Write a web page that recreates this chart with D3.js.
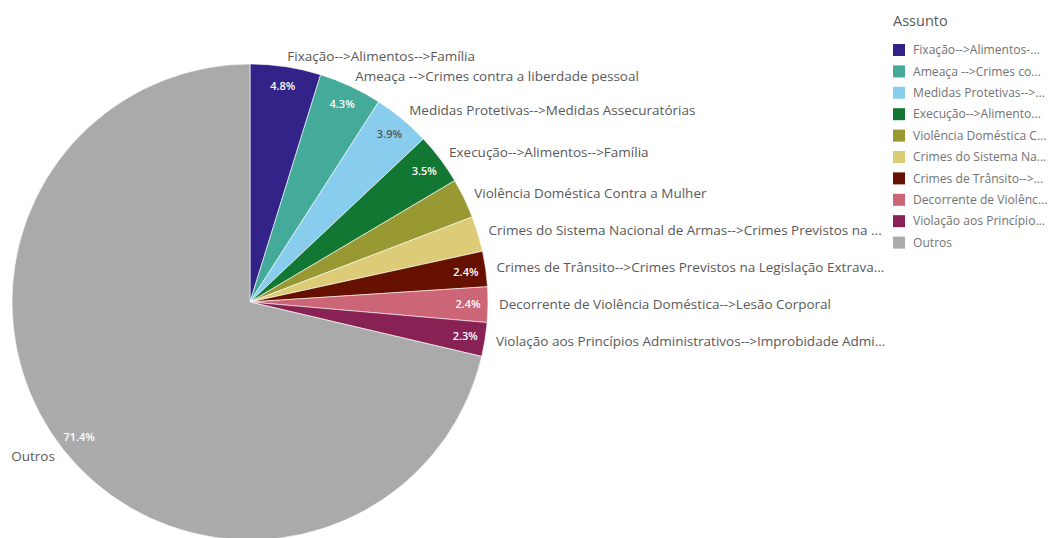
<!DOCTYPE html>
<html>
<head>
<meta charset="utf-8">
<script src="https://cdn.jsdelivr.net/npm/d3@7"></script>
<style>
  body { margin: 0; background: #fff; }
  svg { display: block; font-family: "Open Sans", sans-serif; }
</style>
</head>
<body>
<div id="chart"></div>
<script>
// data
var subjects = [
  "Fixação-->Alimentos-->Família",
  "Ameaça -->Crimes contra a liberdade pessoal",
  "Medidas Protetivas-->Medidas Assecuratórias",
  "Execução-->Alimentos-->Família",
  "Violência Doméstica Contra a Mulher",
  "Crimes do Sistema Nacional de Armas-->Crimes Previstos na ...",
  "Crimes de Trânsito-->Crimes Previstos na Legislação Extrava...",
  "Decorrente de Violência Doméstica-->Lesão Corporal",
  "Violação aos Princípios Administrativos-->Improbidade Admi...",
  "Outros"
];
var legendNames = [
  "Fixação-->Alimentos-...",
  "Ameaça -->Crimes co...",
  "Medidas Protetivas-->...",
  "Execução-->Alimento...",
  "Violência Doméstica C...",
  "Crimes do Sistema Na...",
  "Crimes de Trânsito-->...",
  "Decorrente de Violênc...",
  "Violação aos Princípio...",
  "Outros"
];
var percents = [4.8, 4.3, 3.9, 3.5, 2.7, 2.4, 2.4, 2.4, 2.3, 71.4];
var showPct = [true, true, true, true, false, false, true, true, true, true];
var colors = ["#332288", "#44aa99", "#88ccee", "#117733", "#999933",
              "#ddcc77", "#661100", "#cc6677", "#882255", "#aaaaaa"];
var darkText = ["Medidas Protetivas-->Medidas Assecuratórias", "Crimes do Sistema Nacional de Armas-->Crimes Previstos na ..."];

var width = 1052, height = 538;
var cx = 250, cy = 302, radius = 238;

var svg = d3.select("#chart")
  .append("svg")
    .attr("width", width)
    .attr("height", height);

var data = subjects.map(function(s, i) {
  return {name: s, value: percents[i], show: showPct[i], legend: legendNames[i]};
});

var color = d3.scaleOrdinal()
  .domain(subjects)
  .range(colors);

var pie = d3.pie()
  .sort(null)
  .value(function(d) { return d.value; });

var arc = d3.arc().innerRadius(0).outerRadius(radius);
var pctArc = d3.arc().innerRadius(218).outerRadius(218);
var outArc = d3.arc().innerRadius(249).outerRadius(249);

var g = svg.append("g")
  .attr("transform", "translate(" + cx + "," + cy + ")");

var arcs = pie(data);

// slices
g.selectAll("path")
  .data(arcs)
  .enter()
  .append("path")
    .attr("d", arc)
    .attr("fill", function(d) { return color(d.data.name); })
    .attr("stroke", "#fff")
    .attr("stroke-width", 0.6);

// percentage labels inside
g.selectAll("text.pct")
  .data(arcs.filter(function(d) { return d.data.show; }))
  .enter()
  .append("text")
    .attr("class", "pct")
    .attr("transform", function(d) { return "translate(" + pctArc.centroid(d) + ")"; })
    .attr("text-anchor", "middle")
    .attr("dy", "0.35em")
    .style("font-size", "11px")
    .style("font-weight", "600")
    .attr("fill", function(d) { return darkText.indexOf(d.data.name) >= 0 ? "#555" : "#fff"; })
    .text(function(d) { return d.data.value.toFixed(1) + "%"; });

// outer labels
g.selectAll("text.lbl")
  .data(arcs)
  .enter()
  .append("text")
    .attr("class", "lbl")
    .attr("transform", function(d) { return "translate(" + outArc.centroid(d) + ")"; })
    .attr("text-anchor", function(d) {
      return (d.startAngle + d.endAngle) / 2 > Math.PI ? "end" : "start";
    })
    .attr("dy", "0.35em")
    .style("font-size", "13.5px")
    .attr("fill", "#595959")
    .text(function(d) { return d.data.name; });

// legend
var legend = svg.append("g")
  .attr("transform", "translate(893,0)");

legend.append("text")
  .attr("x", 0)
  .attr("y", 26)
  .style("font-size", "14.5px")
  .attr("fill", "#595959")
  .text("Assunto");

var items = legend.selectAll("g.item")
  .data(data)
  .enter()
  .append("g")
    .attr("class", "item")
    .attr("transform", function(d, i) { return "translate(0," + (50 + i * 21.4) + ")"; });

items.append("rect")
  .attr("x", 0)
  .attr("y", -6)
  .attr("width", 12)
  .attr("height", 12)
  .attr("fill", function(d) { return color(d.name); });

items.append("text")
  .attr("x", 20)
  .attr("dy", "0.35em")
  .style("font-size", "12.1px")
  .attr("fill", "#737373")
  .text(function(d) { return d.legend; });
</script>
</body>
</html>
